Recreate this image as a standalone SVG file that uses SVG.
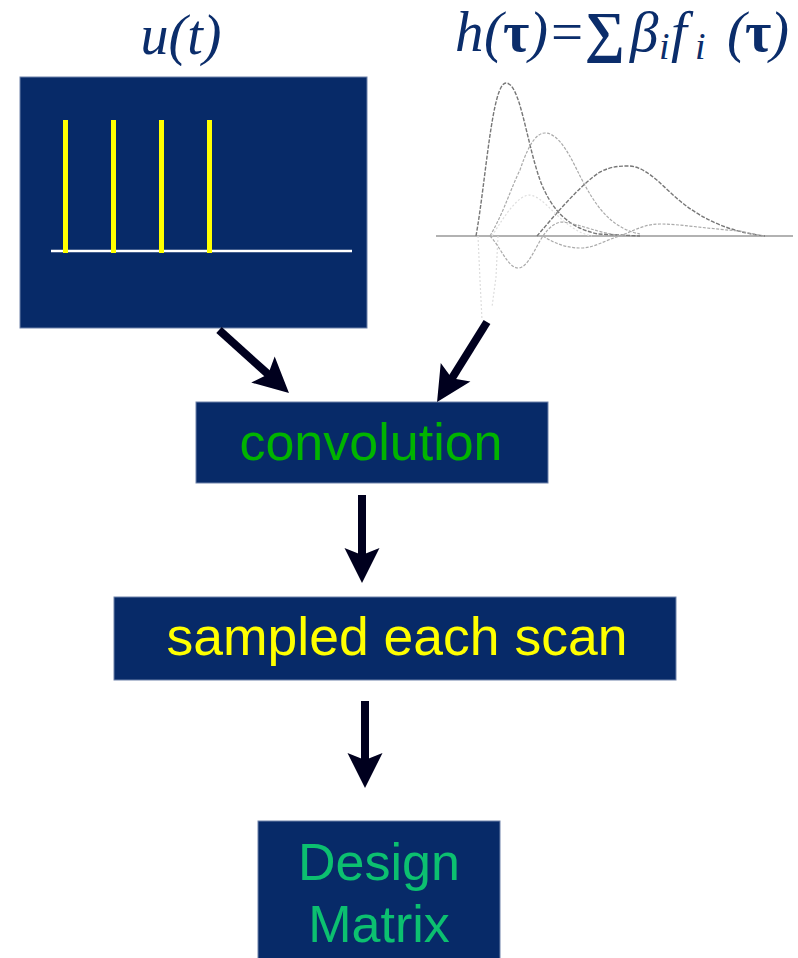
<svg xmlns="http://www.w3.org/2000/svg" width="798" height="958" viewBox="0 0 798 958">
<style>
.box{fill:#072a68;stroke:#6f82aa;stroke-width:1}
.lbl{font-family:"Liberation Sans",Arial,sans-serif;font-size:52px;text-anchor:middle}
.math{font-family:"Liberation Serif","Times New Roman",serif;font-size:57px;fill:#0b2d6b;font-style:italic}
.up{font-style:normal;font-weight:bold}
.sub{font-size:38px}
.conn{stroke:#00001e;stroke-width:8;fill:none;marker-end:url(#ah)}
.cv{fill:none;stroke:#777;stroke-width:1.4;stroke-dasharray:4 1.5}
.cvl{fill:none;stroke:#aaa;stroke-width:1.2;stroke-dasharray:3 1.5}
.cvf{fill:none;stroke:#ddd;stroke-width:1.2;stroke-dasharray:2 2}
</style>
<defs>
<marker id="ah" markerUnits="userSpaceOnUse" viewBox="-11 -18 37 36" markerWidth="37" markerHeight="36" refX="0" refY="0" orient="auto">
<path d="M25,0 L-10,-17.5 L-3,0 L-10,17.5 Z" fill="#00001e"/>
</marker>
</defs>
<rect width="798" height="958" fill="#ffffff"/>

<g id="input-u">
<text class="math" x="181" y="54" text-anchor="middle" style="font-size:56px">u(t)</text>
<rect class="box" x="20" y="77" width="347" height="251"/>
<line x1="51" y1="251" x2="352" y2="251" stroke="#ffffff" stroke-width="2.5"/>
<g fill="#ffff00">
<rect x="63" y="120" width="5" height="133"/>
<rect x="111" y="120" width="5" height="133"/>
<rect x="159" y="120" width="5" height="133"/>
<rect x="207" y="120" width="5" height="133"/>
</g>
</g>

<g id="basis-h">
<text class="math" y="51"><tspan x="455">h</tspan><tspan x="484">(</tspan><tspan class="up" x="503">τ</tspan><tspan x="529">)</tspan><tspan style="font-style:normal" x="551">=</tspan><tspan class="up" x="585" style="font-size:56px">∑</tspan><tspan x="630">β</tspan><tspan class="sub" x="659" dy="8">i</tspan><tspan x="671" dy="-8">f</tspan><tspan class="sub" x="695" dy="8">i</tspan><tspan x="727" dy="-8">(</tspan><tspan class="up" x="745">τ</tspan><tspan x="770">)</tspan></text>
<line x1="436" y1="236" x2="793" y2="236" stroke="#999" stroke-width="1.5"/>
<path class="cvf" d="M478,236 L480,280 L482,320"/>
<path class="cvf" d="M498,236 L496,277 L492,307"/>
<path class="cv" d="M476,236 C486,180 492,83 506,83 C520,83 526,140 540,180 C552,212 570,228 598,234 L640,236"/>
<path class="cvl" d="M490,236 C505,210 510,190 520,170 C530,140 538,133 545,133 C560,133 572,160 580,176 C595,205 610,228 640,234"/>
<path class="cv" d="M537,236 C555,215 580,185 600,172 C612,166 620,166 630,166 C650,168 665,190 685,205 C705,220 730,232 765,236"/>
<path class="cvl" d="M490,236 C500,246 508,268 518,268 C528,268 535,248 543,236 C550,226 556,222 563,222 C580,224 600,234 625,236"/>
<path class="cvf" d="M492,236 C505,215 518,195 530,195 C542,197 552,212 565,222 C575,230 582,234 592,236"/>
<path class="cvl" d="M543,236 C555,244 568,248 580,248 C595,248 605,240 620,236 C635,230 645,224 660,224 C680,224 700,228 740,231 L762,236"/>
</g>

<g id="convolution">
<rect class="box" x="196" y="402" width="352" height="81"/>
<text class="lbl" x="371" y="460" fill="#00b400">convolution</text>
</g>

<g id="sampled">
<rect class="box" x="114" y="597" width="562" height="83"/>
<text class="lbl" x="397" y="655" fill="#ffff00" style="font-size:53.5px">sampled each scan</text>
</g>

<g id="design-matrix">
<rect class="box" x="258" y="821" width="242" height="140"/>
<text class="lbl" x="379" y="880" fill="#0cc070">Design</text>
<text class="lbl" x="379" y="942" fill="#0cc070">Matrix</text>
</g>

<g id="connectors">
<line class="conn" x1="219" y1="330" x2="270.4" y2="376.3"/>
<line class="conn" x1="487" y1="322" x2="450.3" y2="380.8"/>
<line class="conn" x1="362" y1="495" x2="362" y2="558"/>
<line class="conn" x1="365" y1="701" x2="365" y2="763"/>
</g>
</svg>
